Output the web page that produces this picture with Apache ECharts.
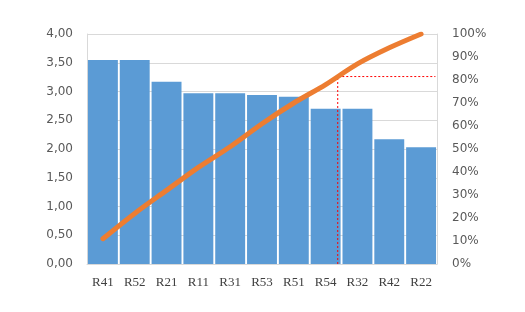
<!DOCTYPE html>
<html><head><meta charset="utf-8">
<script src="https://cdn.jsdelivr.net/npm/echarts@6/dist/echarts.min.js"></script>
<style>html,body{margin:0;padding:0;background:#fff}#c{width:525px;height:312px}</style>
</head><body><div id="c"></div>
<script>
var categories = ['R41','R52','R21','R11','R31','R53','R51','R54','R32','R42','R22'];
var values = [3.55,3.55,3.17,2.97,2.97,2.94,2.91,2.70,2.70,2.17,2.03];
var cumulativePct = [11,22,32,42,51,61,70,78,87,94,100];
var leftTicks = ['0,00','0,50','1,00','1,50','2,00','2,50','3,00','3,50','4,00'];
var rightTicks = ['0%','10%','20%','30%','40%','50%','60%','70%','80%','90%','100%'];
var cutX = [7.88, 7.88, 10.95];
var cutY = [0, 81.5, 81.5];

var chart = echarts.init(document.getElementById('c'));
var gridCol = '#d9d9d9';
chart.setOption({
  animation: false,
  grid: {left: 87, right: 88, top: 34, bottom: 48},
  xAxis: [{
    type: 'category', data: categories,
    axisLine: {show: true, lineStyle: {color: gridCol}},
    axisTick: {show: false},
    axisLabel: {margin: 12, color: '#404040', fontFamily: 'Liberation Serif', fontSize: 13}
  }, {
    type: 'value', min: 0, max: 11, show: false
  }],
  yAxis: [{
    type: 'value', min: 0, max: 4, interval: 0.5,
    axisLine: {show: true, lineStyle: {color: gridCol}},
    axisTick: {show: false},
    splitLine: {show: true, lineStyle: {color: gridCol}},
    axisLabel: {margin: 14, color: '#595959', fontFamily: 'DejaVu Sans', fontSize: 12,
      formatter: function (v) { return leftTicks[Math.round(v / 0.5)]; }}
  }, {
    type: 'value', min: 0, max: 100, interval: 10,
    axisLine: {show: true, lineStyle: {color: gridCol}},
    axisTick: {show: false},
    splitLine: {show: false},
    axisLabel: {margin: 15, color: '#595959', fontFamily: 'DejaVu Sans', fontSize: 12,
      formatter: function (v) { return rightTicks[Math.round(v / 10)]; }}
  }],
  series: [{
    type: 'bar', data: values, barCategoryGap: '6%',
    itemStyle: {color: '#5B9BD5'}
  }, {
    type: 'line', data: cutX.map(function (x, i) { return [x, cutY[i]]; }),
    xAxisIndex: 1, yAxisIndex: 1, symbol: 'none',
    lineStyle: {color: '#FF0000', width: 1, type: [2, 2]}
  }, {
    type: 'line', data: cumulativePct, yAxisIndex: 1, symbol: 'none', smooth: 0.3,
    lineStyle: {color: '#ED7D31', width: 5, cap: 'round'}
  }]
});
</script></body></html>
